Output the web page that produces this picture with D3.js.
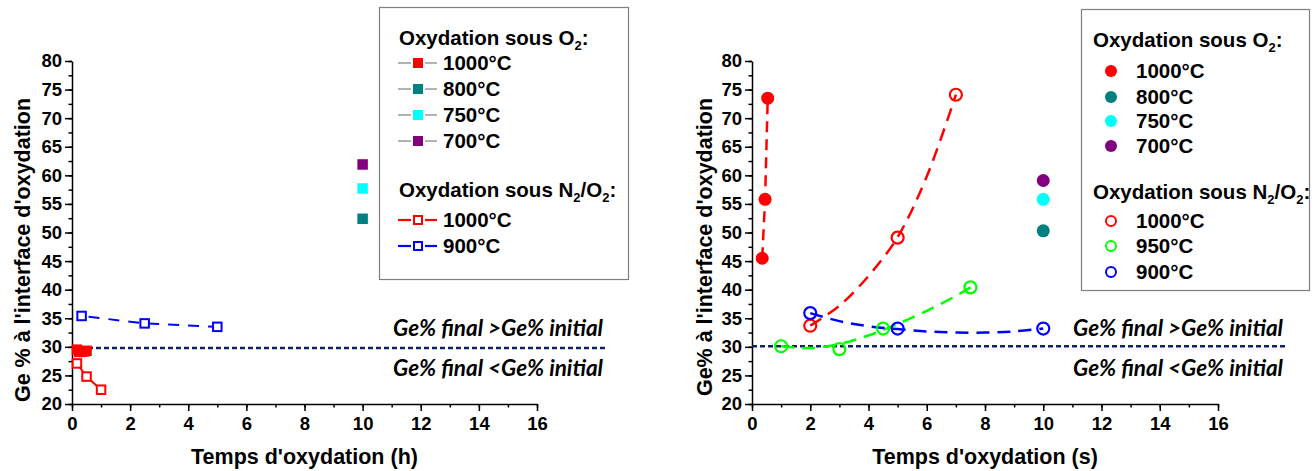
<!DOCTYPE html>
<html><head><meta charset="utf-8">
<script src="https://cdn.jsdelivr.net/npm/d3@7"></script>
<style>
body{margin:0;background:#fff;}
svg{display:block;}
text{font-family:"Liberation Sans",Arial,sans-serif;font-weight:bold;fill:#000;}
</style></head>
<body><svg id="c" width="1314" height="471"></svg>
<script>
// ---------- DATA ----------
const xTickValues = [0, 2, 4, 6, 8, 10, 12, 14, 16];
const yTickValues = [20, 25, 30, 35, 40, 45, 50, 55, 60, 65, 70, 75, 80];

// Left panel (time in h)
const leftO2_1000 = [[0.17, 29.5], [0.25, 29.1], [0.33, 29.2], [0.42, 29.2], [0.5, 29.3]];
const leftO2_800 = [[10, 52.4]];
const leftO2_750 = [[10, 57.7]];
const leftO2_700 = [[10, 61.9]];
const leftN2_1000 = [[0.17, 27.1], [0.5, 24.8], [1.0, 22.5]];
const leftN2_900 = [[0.33, 35.4], [2.5, 34.1], [5.0, 33.5]];

// Right panel (time in s)
const rightO2_1000 = [[0.35, 45.5], [0.45, 55.8], [0.54, 73.5]];
const rightO2_800 = [[10, 50.3]];
const rightO2_750 = [[10, 55.8]];
const rightO2_700 = [[10, 59.1]];
const rightN2_1000 = [[2, 33.7], [5, 49.1], [7, 74.1]];
const rightN2_950 = [[1, 30.1], [3, 29.6], [4.5, 33.2], [7.5, 40.4]];
const rightN2_900 = [[2, 35.9], [5, 33.2], [10, 33.2]];
// fitted trend curves
const fitN2_1000 = [[2, 33.7], [3, 37.2], [4, 42.4], [5, 49.2], [6, 59.8], [7, 74.1]];
const fitN2_950 = [[1, 30.1], [2, 29.8], [3, 30.5], [4, 32.0], [5, 34.0], [6, 36.3], [7, 38.9], [7.5, 40.4]];
const fitN2_900 = [[2, 35.9], [3, 34.5], [4, 33.6], [5, 33.1], [6, 32.7], [7, 32.5], [8, 32.5], [9, 32.7], [10, 33.2]];

const colors = {c1000: "#ff0000", c800: "#008080", c750: "#00ffff", c700: "#800080", c950: "#00ff00", c900: "#0000ff", ref: "#0a2463"};

const svg = d3.select("#c");

function panel(opts) {
  const g = svg.append("g");
  const x = d3.scaleLinear().domain([0, 16]).range([opts.x0, opts.x1]);
  const y = d3.scaleLinear().domain([20, 80]).range([404, 61]);

  const yMinor = d3.range(20, 80.01, 2.5);
  const xMinor = d3.range(0, 16.01, 1);
  g.append("g").attr("transform", `translate(${opts.x0},0)`)
    .call(d3.axisLeft(y).tickValues(yMinor).tickSize(3.5).tickFormat(""))
    .call(a => a.select(".domain").remove());
  g.append("g").attr("transform", `translate(0,404)`)
    .call(d3.axisBottom(x).tickValues(xMinor).tickSize(3.5).tickFormat(""))
    .call(a => a.select(".domain").remove());
  const ya = g.append("g").attr("transform", `translate(${opts.x0},0)`)
    .call(d3.axisLeft(y).tickValues(yTickValues).tickSize(7).tickPadding(3).tickSizeOuter(0));
  const xa = g.append("g").attr("transform", `translate(0,404)`)
    .call(d3.axisBottom(x).tickValues(xTickValues).tickSize(7).tickPadding(6).tickSizeOuter(0));
  [ya, xa].forEach(a => {
    a.selectAll("text").style("font-size", "18.5px").style("font-family", '"Liberation Sans",Arial,sans-serif').style("font-weight", "bold").attr("fill", "#000");
    a.select(".domain").attr("stroke", "#000").attr("stroke-width", 1.5);
  });
  g.selectAll("g.tick line").attr("stroke", "#000").attr("stroke-width", 1.5);

  g.append("text").attr("x", (opts.x0 + opts.x1) / 2).attr("y", 464)
    .attr("text-anchor", "middle").style("font-size", "21.5px").text(opts.xTitle);
  g.append("text").attr("transform", `translate(${opts.yLabelX},${opts.yLabelY}) rotate(-90)`)
    .attr("text-anchor", "middle").style("font-size", "21.5px").text(opts.yTitle);

  g.append("line").attr("x1", opts.x0).attr("x2", opts.refEnd)
    .attr("y1", y(opts.ref)).attr("y2", y(opts.ref))
    .attr("stroke", colors.ref).attr("stroke-width", 2.7).attr("stroke-dasharray", "5,3");

  const ann = [["Ge% final >Ge% initial", 336], ["Ge% final <Ge% initial", 376]];
  ann.forEach(([t, yy]) => {
    g.append("text").attr("x", opts.annX).attr("y", yy).attr("text-anchor", "end")
      .style("font-family", "Lato, 'Open Sans', sans-serif").style("font-style", "italic").style("font-weight", "bold")
      .style("font-size", "22.5px").text(t);
  });
  return {g, x, y};
}

function legendTitle(lg, x0, yb, parts) {
  const t = lg.append("text").attr("x", x0).attr("y", yb).style("font-size", "20.5px");
  let sub = false;
  parts.forEach(p => {
    const isSub = p.sub === true;
    const ts = t.append("tspan").text(p.t);
    if (isSub && !sub) ts.attr("dy", 5).style("font-size", "13px");
    else if (!isSub && sub) ts.attr("dy", -5);
    sub = isSub;
  });
}

// ---------- LEFT PANEL ----------
const L = panel({x0: 72, x1: 537, refEnd: 605, ref: 29.8, xTitle: "Temps d'oxydation (h)",
  yTitle: "Ge % à l'interface d'oxydation", yLabelX: 30, yLabelY: 250, annX: 603});
{
  const {g, x, y} = L;
  const line = d3.line().x(d => x(d[0])).y(d => y(d[1]));
  g.append("path").datum(leftN2_1000).attr("d", line).attr("fill", "none").attr("stroke", colors.c1000).attr("stroke-width", 2);
  g.append("path").datum(leftN2_900).attr("d", line).attr("fill", "none").attr("stroke", colors.c900).attr("stroke-width", 2).attr("stroke-dasharray", "11,9").attr("stroke-dashoffset", -7);
  g.append("path").datum(leftO2_1000).attr("d", line).attr("fill", "none").attr("stroke", colors.c1000).attr("stroke-width", 2);
  const sq = 10.5;
  function filledSq(data, c) {
    g.selectAll(null).data(data).enter().append("rect")
      .attr("x", d => x(d[0]) - sq / 2).attr("y", d => y(d[1]) - sq / 2)
      .attr("width", sq).attr("height", sq).attr("fill", c);
  }
  function openSq(data, c) {
    g.selectAll(null).data(data).enter().append("rect")
      .attr("x", d => x(d[0]) - sq / 2 + 1).attr("y", d => y(d[1]) - sq / 2 + 1)
      .attr("width", sq - 2).attr("height", sq - 2).attr("fill", "#fff").attr("stroke", c).attr("stroke-width", 2);
  }
  filledSq(leftO2_1000, colors.c1000);
  filledSq(leftO2_800, colors.c800);
  filledSq(leftO2_750, colors.c750);
  filledSq(leftO2_700, colors.c700);
  openSq(leftN2_1000, colors.c1000);
  openSq(leftN2_900, colors.c900);

  const lg = svg.append("g");
  lg.append("rect").attr("x", 379.5).attr("y", 7.5).attr("width", 249).attr("height", 272)
    .attr("fill", "#fff").attr("stroke", "#7f7f7f").attr("stroke-width", 1.2);
  legendTitle(lg, 399, 45, [{t: "Oxydation sous O"}, {t: "2", sub: true}, {t: ":"}]);
  legendTitle(lg, 399, 197, [{t: "Oxydation sous N"}, {t: "2", sub: true}, {t: "/O"}, {t: "2", sub: true}, {t: ":"}]);
  const items = [
    ["1000°C", colors.c1000, 63, true, "#808080", 1.2],
    ["800°C", colors.c800, 89, true, "#808080", 1.2],
    ["750°C", colors.c750, 115, true, "#808080", 1.2],
    ["700°C", colors.c700, 141, true, "#808080", 1.2],
    ["1000°C", colors.c1000, 220, false, colors.c1000, 2.2],
    ["900°C", colors.c900, 246, false, colors.c900, 2.2]
  ];
  items.forEach(([lab, c, yy, filled, lc, lw]) => {
    lg.append("line").attr("x1", 398).attr("x2", 411).attr("y1", yy).attr("y2", yy).attr("stroke", lc).attr("stroke-width", lw);
    lg.append("line").attr("x1", 425).attr("x2", 437).attr("y1", yy).attr("y2", yy).attr("stroke", lc).attr("stroke-width", lw);
    if (filled) lg.append("rect").attr("x", 413).attr("y", yy - 5).attr("width", 10).attr("height", 10).attr("fill", c);
    else lg.append("rect").attr("x", 414).attr("y", yy - 4).attr("width", 8).attr("height", 8).attr("fill", "#fff").attr("stroke", c).attr("stroke-width", 2);
    lg.append("text").attr("x", 443).attr("y", yy + 7).style("font-size", "20.5px").text(lab);
  });
}

// ---------- RIGHT PANEL ----------
const R = panel({x0: 752, x1: 1218, refEnd: 1287, ref: 30.1, xTitle: "Temps d'oxydation (s)",
  yTitle: "Ge% à l'interface d'oxydation", yLabelX: 712, yLabelY: 247, annX: 1283});
{
  const {g, x, y} = R;
  const straight = d3.line().x(d => x(d[0])).y(d => y(d[1]));
  const smooth = d3.line().x(d => x(d[0])).y(d => y(d[1])).curve(d3.curveCatmullRom);
  g.append("path").datum(rightO2_1000).attr("d", straight).attr("fill", "none").attr("stroke", colors.c1000).attr("stroke-width", 2.5).attr("stroke-dasharray", "11,7");
  [[fitN2_1000, colors.c1000], [fitN2_950, colors.c950], [fitN2_900, colors.c900]].forEach(([d, c]) => {
    g.append("path").datum(d).attr("d", smooth).attr("fill", "none").attr("stroke", c).attr("stroke-width", 2.5).attr("stroke-dasharray", "13,8");
  });
  function filled(data, c) {
    g.selectAll(null).data(data).enter().append("circle")
      .attr("cx", d => x(d[0])).attr("cy", d => y(d[1])).attr("r", 6.5).attr("fill", c);
  }
  function open(data, c) {
    g.selectAll(null).data(data).enter().append("circle")
      .attr("cx", d => x(d[0])).attr("cy", d => y(d[1])).attr("r", 6).attr("fill", "none").attr("stroke", c).attr("stroke-width", 2.2);
  }
  filled(rightO2_1000, colors.c1000);
  filled(rightO2_800, colors.c800);
  filled(rightO2_750, colors.c750);
  filled(rightO2_700, colors.c700);
  open(rightN2_1000, colors.c1000);
  open(rightN2_950, colors.c950);
  open(rightN2_900, colors.c900);

  const lg = svg.append("g");
  lg.append("rect").attr("x", 1081.5).attr("y", 9.5).attr("width", 228).attr("height", 281)
    .attr("fill", "#fff").attr("stroke", "#7f7f7f").attr("stroke-width", 1.2);
  legendTitle(lg, 1093, 47, [{t: "Oxydation sous O"}, {t: "2", sub: true}, {t: ":"}]);
  legendTitle(lg, 1093, 199, [{t: "Oxydation sous N"}, {t: "2", sub: true}, {t: "/O"}, {t: "2", sub: true}, {t: ":"}]);
  const items = [
    ["1000°C", colors.c1000, 71, true],
    ["800°C", colors.c800, 97, true],
    ["750°C", colors.c750, 121, true],
    ["700°C", colors.c700, 146, true],
    ["1000°C", colors.c1000, 221, false],
    ["950°C", colors.c950, 246, false],
    ["900°C", colors.c900, 272, false]
  ];
  items.forEach(([lab, c, yy, f]) => {
    if (f) lg.append("circle").attr("cx", 1111).attr("cy", yy).attr("r", 6).attr("fill", c);
    else lg.append("circle").attr("cx", 1111).attr("cy", yy).attr("r", 5).attr("fill", "none").attr("stroke", c).attr("stroke-width", 2);
    lg.append("text").attr("x", 1136).attr("y", yy + 7).style("font-size", "20.5px").text(lab);
  });
}
</script></body></html>
